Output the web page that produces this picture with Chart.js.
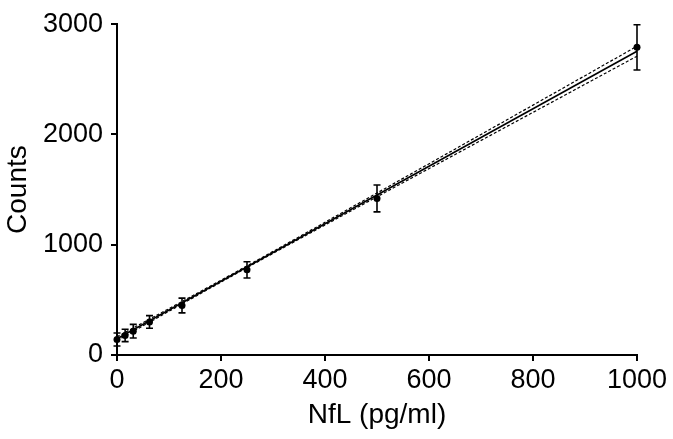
<!DOCTYPE html>
<html>
<head>
<meta charset="utf-8">
<script src="https://cdn.jsdelivr.net/npm/chart.js@4/dist/chart.umd.min.js"></script>
<style>
html,body{margin:0;padding:0;background:#fff;}
#wrap{width:673px;height:439px;position:relative;}
</style>
</head>
<body>
<div id="wrap"><canvas id="c" width="673" height="439"></canvas></div>
<script>
// Standard curve data
const concentrations = [0, 15.625, 31.25, 62.5, 125, 250, 500, 1000];
const meanCounts = [140, 177, 216, 300, 449, 772, 1420, 2790];
const sdCounts = [59, 56, 62, 57, 67, 74, 122, 205];

// Linear fit line
const fitX = [0, 1000];
const fitY = [148, 2755];

// 95% confidence band
const bandX = [0, 125, 250, 500, 750, 1000];
const bandUpper = [165, 485, 808, 1469, 2133, 2800];
const bandLower = [131, 463, 792, 1435, 2073, 2710];

const xTicks = [0, 200, 400, 600, 800, 1000];
const yTicks = [0, 1000, 2000, 3000];

const FONT = "'Liberation Sans', Arial, sans-serif";

const toXY = (xs, ys) => xs.map((x, i) => ({x: x, y: ys[i]}));

const errorBars = {
  id: 'errorBars',
  beforeDatasetsDraw(chart) {
    const ctx = chart.ctx;
    const xs = chart.scales.x, ys = chart.scales.y;
    ctx.save();
    ctx.strokeStyle = '#000';
    ctx.lineWidth = 1.6;
    concentrations.forEach((c, i) => {
      const px = xs.getPixelForValue(c);
      const top = ys.getPixelForValue(meanCounts[i] + sdCounts[i]);
      const bot = ys.getPixelForValue(meanCounts[i] - sdCounts[i]);
      ctx.beginPath();
      ctx.moveTo(px, top); ctx.lineTo(px, bot);
      ctx.moveTo(px - 3.5, top); ctx.lineTo(px + 3.5, top);
      ctx.moveTo(px - 3.5, bot); ctx.lineTo(px + 3.5, bot);
      ctx.stroke();
    });
    ctx.restore();
  }
};

new Chart(document.getElementById('c'), {
  type: 'scatter',
  data: {
    datasets: [
      {
        data: toXY(concentrations, meanCounts),
        pointRadius: 3.5,
        pointBackgroundColor: '#000',
        pointBorderColor: '#000',
        pointBorderWidth: 0,
        clip: false,
        order: 0
      },
      {
        data: toXY(fitX, fitY),
        showLine: true,
        pointRadius: 0,
        borderColor: '#000',
        borderWidth: 1.6,
        clip: false,
        order: 1
      },
      {
        data: toXY(bandX, bandUpper),
        showLine: true,
        pointRadius: 0,
        borderColor: '#000',
        borderWidth: 1.2,
        borderDash: [3, 2],
        cubicInterpolationMode: 'monotone',
        clip: false,
        order: 2
      },
      {
        data: toXY(bandX, bandLower),
        showLine: true,
        pointRadius: 0,
        borderColor: '#000',
        borderWidth: 1.2,
        borderDash: [3, 2],
        cubicInterpolationMode: 'monotone',
        clip: false,
        order: 2
      }
    ]
  },
  options: {
    responsive: false,
    animation: false,
    events: [],
    layout: {padding: {top: 17, right: 36, bottom: 0, left: 0}},
    plugins: {legend: {display: false}, tooltip: {enabled: false}},
    scales: {
      x: {
        type: 'linear',
        min: 0, max: 1000,
        afterBuildTicks: s => { s.ticks = xTicks.map(v => ({value: v})); },
        afterFit: s => { s.height = 84; },
        ticks: {color: '#000', font: {family: FONT, size: 27}, padding: 3, maxRotation: 0, callback: v => String(v)},
        grid: {display: true, drawOnChartArea: false, drawTicks: true, tickLength: 6, color: '#000', lineWidth: 2},
        border: {display: true, color: '#000', width: 2},
        title: {display: true, text: 'NfL (pg/ml)', color: '#000', font: {family: FONT, size: 28}, padding: {top: 0, bottom: 7}}
      },
      y: {
        type: 'linear',
        min: 0, max: 3000,
        afterBuildTicks: s => { s.ticks = yTicks.map(v => ({value: v})); },
        afterFit: s => { s.width = 117; },
        ticks: {color: '#000', font: {family: FONT, size: 27}, padding: 8, callback: v => String(v)},
        grid: {display: true, drawOnChartArea: false, drawTicks: true, tickLength: 6, color: '#000', lineWidth: 2},
        border: {display: true, color: '#000', width: 2},
        title: {display: true, text: 'Counts', color: '#000', font: {family: FONT, size: 28}, padding: {top: 1, bottom: 0}}
      }
    }
  },
  plugins: [errorBars]
});
</script>
</body>
</html>
